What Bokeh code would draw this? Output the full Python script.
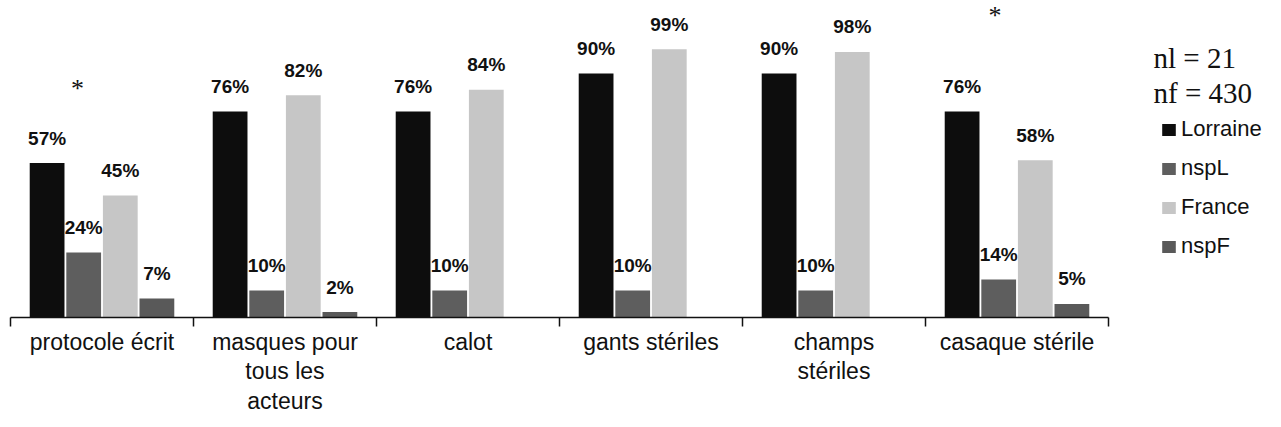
from bokeh.plotting import figure
from bokeh.models import (ColumnDataSource, LinearAxis, FixedTicker, Range1d,
                          Legend, LegendItem, Label)
from bokeh.core.properties import value
from bokeh.embed import file_html
from bokeh.resources import INLINE

categories = ["protocole écrit", "masques pour\ntous les\nacteurs", "calot",
              "gants stériles", "champs\nstériles", "casaque stérile"]
series_names = ["Lorraine", "nspL", "France", "nspF"]
lorraine = [57, 76, 76, 90, 90, 76]
nspL = [24, 10, 10, 10, 10, 14]
france = [45, 82, 84, 99, 98, 58]
nspF = [7, 2, None, None, None, 5]
star_x = [0.366, 5.38]
star_y = [84.5, 111.4]
n_label = ["nl = 21", "nf = 430"]

colors = ["#0d0d0d", "#5e5e5e", "#c6c6c6", "#595959"]
offsets = [-0.3, -0.1, 0.1, 0.3]
bar_w = 0.19

W, H = 1281, 427
left, bottom_border = 10, 110
frame_w = W - left
frame_h = H - bottom_border
px_per_unit_x = 183.0
px_per_pct = 2.71

p = figure(width=W, height=H, output_backend="svg", toolbar_location=None,
           x_range=Range1d(0, frame_w / px_per_unit_x),
           y_range=Range1d(0, frame_h / px_per_pct),
           x_axis_location=None, y_axis_location=None,
           min_border_left=left, min_border_right=0,
           min_border_top=0, min_border_bottom=bottom_border)
p.grid.visible = False
p.outline_line_color = None
p.background_fill_color = "white"

all_series = [lorraine, nspL, france, nspF]
renderers = []
for name, vals, off, col in zip(series_names, all_series, offsets, colors):
    xs, ys, labs = [], [], []
    for i, v in enumerate(vals):
        if v is None:
            continue
        xs.append(i + 0.5 + off)
        ys.append(v)
        labs.append(f"{v}%")
    src = ColumnDataSource(dict(x=xs, top=ys, lab=labs))
    r = p.vbar(x="x", top="top", bottom=0, width=bar_w, source=src,
               fill_color=col, line_color=None)
    renderers.append((name, r))
    p.text(x="x", y="top", text="lab", source=src, text_align="center",
           text_baseline="middle", y_offset=-25,
           text_font=value("Liberation Sans"), text_font_style="bold",
           text_font_size="19px", text_color="#111111")

# asterisks
p.text(x=star_x, y=star_y, text=["*", "*"], text_align="center",
       text_baseline="middle", text_font=value("Liberation Serif"),
       text_font_size="26px", text_color="#111111")

# x axis with boundary ticks
n = len(categories)
ax = LinearAxis(bounds=(0, n))
ax.ticker = FixedTicker(ticks=[i + 0.5 for i in range(n)],
                        minor_ticks=list(range(n + 1)))
ax.major_label_overrides = {i + 0.5: c for i, c in enumerate(categories)}
ax.major_tick_line_color = None
ax.major_tick_out = 0
ax.major_tick_in = 0
ax.minor_tick_out = 9
ax.minor_tick_in = 0
ax.minor_tick_line_color = "#111111"
ax.minor_tick_line_width = 1.5
ax.axis_line_color = "#111111"
ax.axis_line_width = 1.5
ax.major_label_text_font = "Liberation Sans"
ax.major_label_text_font_size = "23px"
ax.major_label_text_line_height = 1.15
ax.major_label_text_color = "#111111"
ax.major_label_standoff = 2
p.add_layout(ax, "below")

# n labels
ys_n = [95.9, 83.0]
for t, yv in zip(n_label, ys_n):
    p.add_layout(Label(x=6.246, y=yv, text=t, text_baseline="alphabetic",
                       text_font="Liberation Serif", text_font_size="29px",
                       text_color="#111111"))

legend = Legend(items=[LegendItem(label=nm, renderers=[r]) for nm, r in renderers],
                location=(1150, 58), orientation="vertical")
legend.padding = 0
legend.margin = 0
legend.border_line_color = None
legend.background_fill_alpha = 0
legend.glyph_width = 17
legend.glyph_height = 15
legend.label_standoff = 4
legend.label_height = 20
legend.spacing = 13
legend.label_text_font = "Liberation Sans"
legend.label_text_font_size = "22px"
legend.label_text_color = "#111111"
p.add_layout(legend, "center")

open("out.html", "w").write(file_html(p, INLINE))
